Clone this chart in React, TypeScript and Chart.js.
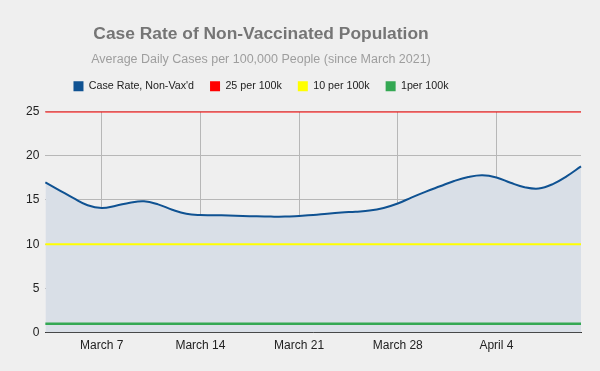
import React, { useEffect, useRef } from "react";
import { Chart, registerables } from "chart.js";

Chart.register(...registerables);

const DATES = [
  "March 3", "March 4", "March 5", "March 6", "March 7", "March 8", "March 9", "March 10",
  "March 11", "March 12", "March 13", "March 14", "March 15", "March 16", "March 17", "March 18",
  "March 19", "March 20", "March 21", "March 22", "March 23", "March 24", "March 25", "March 26",
  "March 27", "March 28", "March 29", "March 30", "March 31", "April 1", "April 2", "April 3",
  "April 4", "April 5", "April 6", "April 7", "April 8", "April 9", "April 10",
];

const CASE_RATE = [
  17.0, 16.1, 15.2, 14.4, 14.1, 14.35, 14.7, 14.85,
  14.5, 13.9, 13.45, 13.3, 13.28, 13.24, 13.2, 13.15,
  13.12, 13.12, 13.2, 13.3, 13.45, 13.58, 13.68, 13.8,
  14.1, 14.6, 15.3, 15.95, 16.55, 17.15, 17.6, 17.8,
  17.55, 16.95, 16.45, 16.3, 16.8, 17.7, 18.8,
];

const THRESHOLD_25 = 25;
const THRESHOLD_10 = 10;
const THRESHOLD_1 = 1;

const TICK_LABELS = ["March 7", "March 14", "March 21", "March 28", "April 4"];
const Y_TICKS = [0, 5, 10, 15, 20, 25];

const SERIES_NAMES = ["Case Rate, Non-Vax'd", "25 per 100k", "10 per 100k", "1per 100k"];

export default function App() {
  const ref = useRef<HTMLCanvasElement | null>(null);

  useEffect(() => {
    document.body.style.margin = "0";
    const canvas = ref.current!;
    const FONT = "'Liberation Sans', Arial, sans-serif";
    const bgPlugin = {
      id: "bg",
      beforeDraw(chart: any) {
        const { ctx, width, height } = chart;
        ctx.save();
        ctx.fillStyle = "#efefef";
        ctx.fillRect(0, 0, width, height);
        ctx.restore();
      },
    };
    const headerShift = {
      id: "headerShift",
      afterLayout(chart: any) {
        chart.boxes.forEach((b: any) => {
          if (b.fullSize && b.position === "top") {
            b.left = 0;
            b.right = 522;
          }
        });
        const lg = chart.legend;
        if (lg) {
          lg.top -= 10;
          lg.bottom -= 10;
        }
      },
    };
    const chart = new Chart(canvas, {
      type: "line",
      data: {
        labels: DATES,
        datasets: [
          {
            label: SERIES_NAMES[0],
            data: CASE_RATE,
            borderColor: "#0f5292",
            backgroundColor: "#d9dfe7",
            borderWidth: 2,
            fill: "origin",
            tension: 0.4,
            pointRadius: 0,
            order: 4,
          },
          {
            label: SERIES_NAMES[1],
            data: DATES.map(() => THRESHOLD_25),
            borderColor: "#ff0000",
            backgroundColor: "#ff0000",
            borderWidth: 2,
            pointRadius: 0,
            fill: false,
            order: 1,
          },
          {
            label: SERIES_NAMES[2],
            data: DATES.map(() => THRESHOLD_10),
            borderColor: "#ffff00",
            backgroundColor: "#ffff00",
            borderWidth: 2,
            pointRadius: 0,
            fill: false,
            order: 2,
          },
          {
            label: SERIES_NAMES[3],
            data: DATES.map(() => THRESHOLD_1),
            borderColor: "#34a853",
            backgroundColor: "#34a853",
            borderWidth: 2.5,
            pointRadius: 0,
            fill: false,
            order: 3,
          },
        ],
      },
      options: {
        animation: false,
        responsive: false,
        maintainAspectRatio: false,
        layout: { padding: { top: 0, left: 20, right: 19, bottom: 12 } },
        plugins: {
          title: {
            display: true,
            text: "Case Rate of Non-Vaccinated Population",
            color: "#757575",
            font: { family: FONT, size: 17.4, weight: "bold" },
            padding: { top: 24, bottom: 7 },
          },
          subtitle: {
            display: true,
            text: "Average Daily Cases per 100,000 People (since March 2021)",
            color: "#9e9e9e",
            font: { family: FONT, size: 12.5 },
            padding: { top: 0, bottom: 8 },
          },
          legend: {
            display: true,
            position: "top",
            labels: {
              boxWidth: 10,
              boxHeight: 10,
              padding: 16,
              color: "#222222",
              font: { family: FONT, size: 10.7 },
              sort: (a: any, b: any) => a.datasetIndex - b.datasetIndex,
              generateLabels(c: any) {
                const items = (Chart.defaults.plugins.legend.labels as any).generateLabels(c);
                return items.map((it: any) => {
                  const ds = c.data.datasets[it.datasetIndex];
                  return { ...it, fillStyle: ds.borderColor, strokeStyle: ds.borderColor, lineWidth: 0 };
                });
              },
            },
          },
          tooltip: { enabled: false },
        },
        scales: {
          x: {
            type: "category",
            offset: false,
            grid: {
              drawTicks: false,
              color: (ctx: any) =>
                TICK_LABELS.includes(DATES[ctx.index]) ? "#b7b7b7" : "rgba(0,0,0,0)",
            },
            border: { display: true, color: "#333333", width: 1 },
            ticks: {
              autoSkip: false,
              maxRotation: 0,
              padding: 6,
              color: "#222222",
              font: { family: FONT, size: 12 },
              callback: (_v: any, i: number) => (TICK_LABELS.includes(DATES[i]) ? DATES[i] : ""),
            },
          },
          y: {
            min: Y_TICKS[0],
            max: Y_TICKS[Y_TICKS.length - 1],
            grid: { drawTicks: false, color: "#b7b7b7" },
            border: { display: false },
            afterBuildTicks: (axis: any) => {
              axis.ticks = Y_TICKS.map((v) => ({ value: v }));
            },
            ticks: {
              padding: 6,
              color: "#222222",
              font: { family: FONT, size: 12 },
            },
          },
        },
      },
      plugins: [bgPlugin, headerShift],
    });
    return () => chart.destroy();
  }, []);

  return (
    <div style={{ position: "absolute", left: 0, top: 0, width: 600, height: 371, background: "#efefef" }}>
      <canvas ref={ref} width={600} height={371} style={{ width: 600, height: 371 }} />
    </div>
  );
}
